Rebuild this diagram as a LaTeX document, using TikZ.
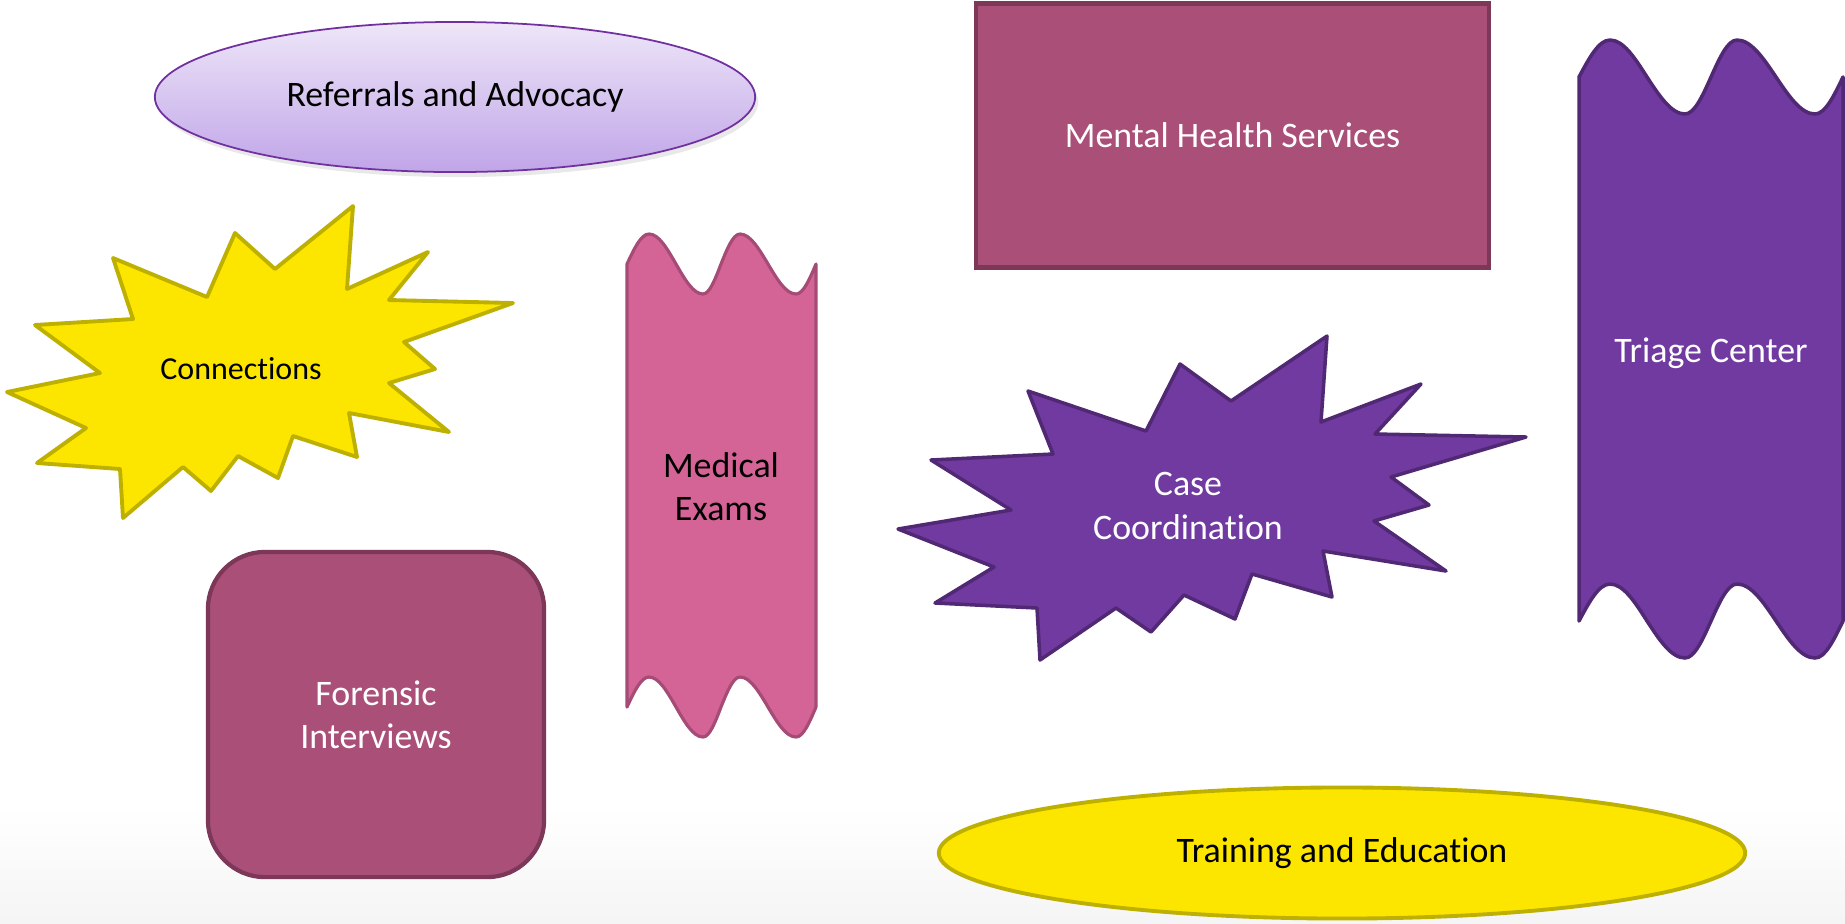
\documentclass[tikz,border=0pt]{standalone}
\usepackage{fontspec}
\setmainfont{Carlito}[Ligatures=NoCommon]
\usetikzlibrary{shapes.geometric,shadows}

\definecolor{shapeyellow}{RGB}{252,230,0}
\definecolor{edgeyellow}{RGB}{190,176,0}
\definecolor{shapepurple}{RGB}{112,58,160}
\definecolor{edgepurple}{RGB}{80,40,115}
\definecolor{shapemauve}{RGB}{170,80,120}
\definecolor{edgemauve}{RGB}{125,55,88}
\definecolor{shapepink}{RGB}{212,100,150}
\definecolor{edgepink}{RGB}{165,75,118}
\definecolor{lavtop}{RGB}{238,230,248}
\definecolor{lavbot}{RGB}{192,165,232}
\definecolor{edgelav}{RGB}{112,48,160}

\begin{document}
\begin{tikzpicture}[x=0.01cm, y=-0.01cm,
    every node/.style={font=\fontsize{10.2}{12.3}\selectfont, align=center},
    yellowshape/.style={fill=shapeyellow, draw=edgeyellow, line width=1.1pt, line join=round},
    purpleshape/.style={fill=shapepurple, draw=edgepurple, line width=1pt, line join=round},
    mauveshape/.style={fill=shapemauve, draw=edgemauve, line width=1.2pt},
    pinkshape/.style={fill=shapepink, draw=edgepink, line width=0.9pt, line join=round},
    whitetext/.style={text=white}]

    % page and light grey floor
    \fill[white] (0,0) rectangle (1845,923);
    \shade[top color=white, bottom color=black!4] (0,805) rectangle (1845,923);
    \useasboundingbox (0,0) rectangle (1845,923);

    % ovals
    \node[ellipse, minimum width=6cm, minimum height=1.5cm, inner sep=0pt,
          top color=lavtop, bottom color=lavbot, draw=edgelav, line width=0.5pt,
          drop shadow={opacity=0.18, shadow xshift=0.03cm, shadow yshift=-0.05cm}]
          (referrals) at (455,97) {Referrals and Advocacy};
    \node[ellipse, minimum width=8.06cm, minimum height=1.31cm, inner sep=0pt, yellowshape]
          (training) at (1342,853) {Training and Education};

    % boxes
    \node[rectangle, minimum width=5.13cm, minimum height=2.64cm, mauveshape, whitetext]
          (mental) at (1232.5,135.5) {Mental Health Services};
    \node[rectangle, rounded corners=0.57cm, minimum width=3.36cm, minimum height=3.25cm,
          mauveshape, whitetext] (forensic) at (376,714.5) {Forensic\\Interviews};

    % explosions
    \filldraw[yellowshape] (113,258) -- (207,297) -- (235,233) -- (275,269) -- (353,206)
        -- (347,289) -- (428,252) -- (389,300) -- (513,303) -- (404,342) -- (435,369)
        -- (389,383) -- (449,432) -- (349,413) -- (357,457) -- (293,436) -- (278,478)
        -- (238,456) -- (211,491) -- (183,467) -- (123,518) -- (120,469) -- (37,463)
        -- (86,428) -- (7,392) -- (100,373) -- (35,325) -- (133,319) -- cycle;
    \node[font=\fontsize{9.1}{11}\selectfont] (connections) at (241,369) {Connections};

    \filldraw[purpleshape] (1028,391) -- (1146,431) -- (1180,364) -- (1231,401) -- (1327,336)
        -- (1321,422) -- (1421,384) -- (1375,434) -- (1526,437) -- (1391,477) -- (1429,505)
        -- (1374,521) -- (1446,571) -- (1323,551) -- (1332,597) -- (1252,574) -- (1235,619)
        -- (1184,595) -- (1151,632) -- (1116,608) -- (1040,660) -- (1037,608) -- (935,603)
        -- (994,567) -- (898,529) -- (1011,510) -- (931,460) -- (1053,454) -- cycle;
    \node[whitetext] (casecoord) at (1188,506) {Case\\Coordination};

    % double waves
    \filldraw[pinkshape] (627,264) sin ++(22,-30) cos ++(27,30) sin ++(27,30) cos ++(18,-30)
        sin ++(19,-30) cos ++(28,30) sin ++(28,30) cos ++(20,-30) -- ++(0,443)
        sin ++(-20,30) cos ++(-28,-30) sin ++(-28,-30) cos ++(-19,30)
        sin ++(-18,30) cos ++(-27,-30) sin ++(-27,-30) cos ++(-22,30) -- cycle;
    \node (medical) at (721,487) {Medical\\Exams};

    \filldraw[purpleshape] (1579,77) sin ++(31,-37) cos ++(37,37) sin ++(38,37) cos ++(26,-37)
        sin ++(26,-37) cos ++(39,37) sin ++(39,37) cos ++(28,-37) -- ++(0,544)
        sin ++(-28,37) cos ++(-39,-37) sin ++(-39,-37) cos ++(-26,37)
        sin ++(-26,37) cos ++(-38,-37) sin ++(-37,-37) cos ++(-31,37) -- cycle;
    \node[whitetext] (triage) at (1711,353) {Triage Center};

\end{tikzpicture}
\end{document}
